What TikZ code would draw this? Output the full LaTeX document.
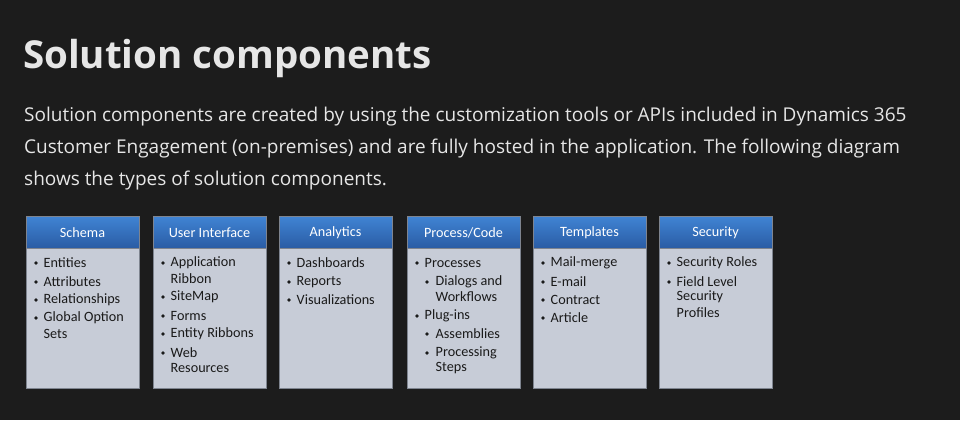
\documentclass[tikz,border=0pt]{standalone}
\usepackage{fontspec}
\setmainfont{Open Sans}
\newfontfamily\boxfont{Carlito}
\definecolor{bgc}{HTML}{1C1C1C}
\definecolor{txtc}{HTML}{E6E6E6}
\definecolor{hdtop}{HTML}{4084D4}
\definecolor{hdbot}{HTML}{2A5CA4}
\definecolor{bodyc}{HTML}{C7CCD7}
\definecolor{edgec}{HTML}{7E848F}
\definecolor{itemc}{HTML}{1A1A1A}
\tikzset{
  hdr/.style={draw=edgec, line width=0.6pt, top color=hdtop, bottom color=hdbot},
  bodybox/.style={draw=edgec, line width=0.6pt, fill=bodyc},
  hdtext/.style={text=white, font=\boxfont\fontsize{14.2}{16}\selectfont, anchor=center, inner sep=0pt},
  itm/.style={text=itemc, font=\boxfont\fontsize{14.2}{16}\selectfont, anchor=west, inner sep=0pt},
  bul/.style={circle, fill=itemc, inner sep=0pt, minimum size=3.6pt},
  para/.style={anchor=base west, inner sep=0pt, text=txtc, font=\fontsize{19}{22}\selectfont},
}
\begin{document}
\begin{tikzpicture}[x=1pt,y=-1pt]
\fill[bgc] (0,0) rectangle (960,420);
\useasboundingbox (0,0) rectangle (960,420);
\node[anchor=base west, inner sep=0pt, text=txtc, font=\bfseries\fontsize{38.5}{44}\selectfont] (title) at (23,68) {Solution components};
\node[para] (p1) at (24,121) {Solution components are created by using the customization tools or APIs included in Dynamics 365};
\node[para] (p2) at (24,153) {Customer Engagement (on-premises) and are fully hosted in the application. The following diagram};
\node[para] (p3) at (24,185) {shows the types of solution components.};
% boxes
\foreach \i/\x/\name in {1/26/{Schema},2/153/{User Interface},3/279/{Analytics},4/407/{Process/Code},5/533/{Templates},6/659/{Security}}{
  \draw[bodybox] (\x,248) rectangle (\x+113,388);
  \draw[hdr] (\x,216) rectangle (\x+113,248);
  \node[hdtext] (h\i) at (\x+56.5,233) {\name};
}
\newcommand{\bitem}[4]{%
  \node[bul] (b#1) at (#2+10,#3) {};
  \node[itm] (t#1) at (#2+17.5,#3) {#4};}
\newcommand{\citem}[4]{%
  \node[itm] (t#1) at (#2+17.5,#3) {#4};}
\newcommand{\sitem}[4]{%
  \node[bul] (b#1) at (#2+20,#3) {};
  \node[itm] (t#1) at (#2+28.5,#3) {#4};}
\newcommand{\scitem}[4]{%
  \node[itm] (t#1) at (#2+28.5,#3) {#4};}
% Schema
\bitem{a1}{26}{263}{Entities}
\bitem{a2}{26}{282}{Attributes}
\bitem{a3}{26}{300}{Relationships}
\bitem{a4}{26}{318}{Global Option}
\citem{a5}{26}{334}{Sets}
% UI
\bitem{u1}{153}{263}{Application}
\citem{u2}{153}{279}{Ribbon}
\bitem{u3}{153}{297}{SiteMap}
\bitem{u4}{153}{316}{Forms}
\bitem{u5}{153}{334}{Entity Ribbons}
\bitem{u6}{153}{353}{Web}
\citem{u7}{153}{368}{Resources}
% Analytics
\bitem{n1}{279}{263}{Dashboards}
\bitem{n2}{279}{282}{Reports}
\bitem{n3}{279}{300}{Visualizations}
% Process
\bitem{p1}{407}{263}{Processes}
\sitem{p2}{407}{282}{Dialogs and}
\scitem{p3}{407}{297}{Workflows}
\bitem{p4}{407}{316}{Plug-ins}
\sitem{p5}{407}{334}{Assemblies}
\sitem{p6}{407}{353}{Processing}
\scitem{p7}{407}{368}{Steps}
% Templates
\bitem{m1}{533}{263}{Mail-merge}
\bitem{m2}{533}{282}{E-mail}
\bitem{m3}{533}{300}{Contract}
\bitem{m4}{533}{318}{Article}
% Security
\bitem{s1}{659}{263}{Security Roles}
\bitem{s2}{659}{282}{Field Level}
\citem{s3}{659}{297}{Security}
\citem{s4}{659}{313}{Profiles}
\end{tikzpicture}
\end{document}
